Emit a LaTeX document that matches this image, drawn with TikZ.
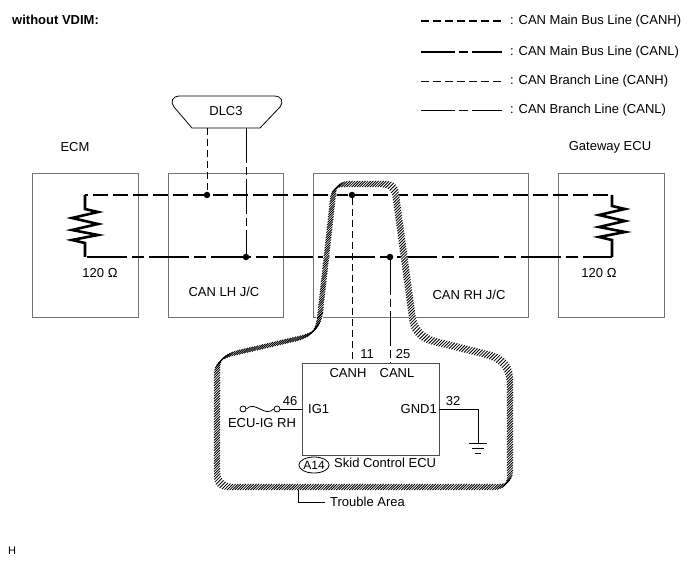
\documentclass[tikz,border=0pt]{standalone}
\usepackage{fontspec}
\setmainfont{Liberation Sans}
\usetikzlibrary{decorations.markings,shapes.geometric}
\tikzset{
  box/.style={draw=black!55, line width=0.8pt, rectangle, inner sep=0pt},
  bus/.style={line width=2.6pt},
  mainH/.style={bus, dash pattern=on 15pt off 5pt},
  mainL/.style={bus, dash pattern=on 40pt off 5pt on 12pt off 5pt},
  brH/.style={line width=0.8pt, dash pattern=on 7pt off 4pt},
  brL/.style={line width=0.8pt, dash pattern=on 35pt off 4pt on 8pt off 4pt},
  wire/.style={line width=0.8pt},
  dot/.style={circle, fill, inner sep=0pt, minimum size=6.5pt},
  lbl/.style={inner sep=0pt},
  pin/.style={circle, draw, line width=0.8pt, inner sep=0pt, minimum size=6pt},
  hatchband/.style={
    preaction={draw=white, line width=6.5pt},
    decoration={markings, mark=between positions 0 and 1 step 2.6pt with {
      \pgftransformresetnontranslations
      \draw[line width=0.85pt] (-3pt,-3pt) -- (3pt,3pt);}},
    postaction={decorate}}
}
\begin{document}
\begin{tikzpicture}[x=1pt,y=-1pt, font=\fontsize{13}{15}\selectfont]
\useasboundingbox (0,0) rectangle (691,564);

% title and corner mark
\node[lbl, anchor=west, font=\fontsize{13}{15}\selectfont\bfseries] (title) at (12,20) {without VDIM:};
\node[lbl, anchor=west, font=\fontsize{11}{13}\selectfont] (hmark) at (8,551) {H};

% legend
\coordinate (lg1a) at (421,21);  \coordinate (lg1b) at (502,21);
\coordinate (lg2a) at (421,52);  \coordinate (lg2b) at (502,52);
\coordinate (lg3a) at (421,81);  \coordinate (lg3b) at (502,81);
\coordinate (lg4a) at (421,110); \coordinate (lg4b) at (502,110);
\draw[bus, dash pattern=on 8pt off 4pt] (lg1a) -- (lg1b);
\draw[bus, dash pattern=on 34pt off 4pt on 9pt off 4pt] (lg2a) -- (lg2b);
\draw[line width=0.8pt, dash pattern=on 8pt off 4pt] (lg3a) -- (lg3b);
\draw[line width=0.8pt, dash pattern=on 34pt off 4pt on 9pt off 4pt] (lg4a) -- (lg4b);
\node[lbl, anchor=west] (t1) at (510,21) {: CAN Main Bus Line (CANH)};
\node[lbl, anchor=west] (t2) at (510,52) {: CAN Main Bus Line (CANL)};
\node[lbl, anchor=west] (t3) at (510,81) {: CAN Branch Line (CANH)};
\node[lbl, anchor=west] (t4) at (510,110) {: CAN Branch Line (CANL)};

% boxes
\node[box, minimum width=106pt, minimum height=144pt] (ecm) at (85,245) {};
\node[box, minimum width=115pt, minimum height=144pt] (lh) at (225.5,245) {};
\node[box, minimum width=215pt, minimum height=144pt] (rh) at (420.5,245) {};
\node[box, minimum width=106pt, minimum height=144pt] (gw) at (611,245) {};
\node[lbl] (ecmlbl) at (75,147) {ECM};
\node[lbl] (gwlbl) at (610,147) {Gateway ECU};
\node[lbl] (lhlbl) at (224,292) {CAN LH J/C};
\node[lbl] (rhlbl) at (469,295) {CAN RH J/C};
\node[lbl] (r1lbl) at (100,273) {120 Ω};
\node[lbl] (r2lbl) at (599,273) {120 Ω};

% DLC3
\draw[wire] (192,128) -- (174,107) .. controls (170,102) and (172,96) .. (180,96)
  -- (274,96) .. controls (282,96) and (284,102) .. (280,107) -- (260,128) -- cycle;
\node[lbl] (dlc) at (226,111) {DLC3};
\coordinate (dlcH) at (207,128);
\coordinate (dlcL) at (246,128);

% bus lines
\coordinate (hL) at (85,195); \coordinate (lL) at (85,257);
\coordinate (hR) at (612,195); \coordinate (lR) at (612,257);
\draw[mainH, dash phase=-8pt] (hL) -- (hR);
\draw[mainL, dash phase=-2pt] (lL) -- (lR);
% resistors
\draw[bus, line join=miter] (hL) -- (85,209) -- (98,212) -- (72,218) -- (98,224) -- (72,230)
  -- (98,235) -- (72,240) -- (85,243) -- (lL);
\draw[bus, line join=miter] (hR) -- (612,206) -- (625,209) -- (599,215) -- (625,221) -- (599,227)
  -- (625,232) -- (599,237) -- (612,240) -- (lR);

% junction dots
\node[dot] (d1) at (207,195) {};
\node[dot] (d2) at (246,257) {};
\node[dot] (d3) at (352,195) {};
\node[dot] (d4) at (390,257) {};

% Skid Control ECU
\node[box, draw=black!70, minimum width=137pt, minimum height=92pt] (ecu) at (370.5,409) {};
\coordinate (p11) at (352,363);
\coordinate (p25) at (390,363);

% branch lines
\draw[brH] (dlcH) -- (d1);
\draw[brL] (dlcL) -- (d2);
\draw[brH] (d3) -- (p11);
\draw[brL] (d4) -- (p25);

\node[lbl] (n11) at (367,354) {11};
\node[lbl] (n25) at (403,354) {25};
\node[lbl] (canh) at (348,373) {CANH};
\node[lbl] (canl) at (397,373) {CANL};
\node[lbl, anchor=west] (ig1) at (308,409) {IG1};
\node[lbl, anchor=east] (gnd1) at (437,409) {GND1};
\node[lbl] (n46) at (290,401) {46};
\node[lbl] (n32) at (453,401) {32};

% fuse ECU-IG RH
\node[pin] (f1) at (243,409) {};
\node[pin] (f2) at (277,409) {};
\draw[wire] (f1.east) .. controls (255,400) and (265,418) .. (f2.west);
\draw[wire] (f2.east) -- (ecu.west |- f2);
\node[lbl] (fuselbl) at (262,423) {ECU-IG RH};

% ground
\coordinate (g0) at (478,409);
\coordinate (g1) at (478,443);
\draw[wire] (ecu.east |- g0) -- (g0) -- (g1);
\draw[wire] (469,443) -- (487,443);
\draw[wire] (472,448) -- (484,448);
\draw[wire] (475,453) -- (481,453);

% connector label
\node[ellipse, draw, line width=0.8pt, inner sep=0pt, minimum width=27pt, minimum height=16pt,
  font=\fontsize{12}{14}\selectfont] (a14) at (314,465) {A14};
\node[lbl, anchor=west] (skid) at (334,463) {Skid Control ECU};

% trouble area
\path[hatchband] (320,315) -- (333,197) .. controls (334,187) and (338,184) .. (348,184)
  -- (382,184) .. controls (392,184) and (395,188) .. (396,197)
  -- (412,315) .. controls (414,335) and (425,340) .. (445,344)
  -- (485,354) .. controls (505,359) and (510,368) .. (510,385)
  -- (510,472) .. controls (510,483) and (505,487) .. (495,487)
  -- (232,487) .. controls (222,487) and (217,483) .. (217,472)
  -- (217,372) .. controls (217,360) and (225,355) .. (240,352)
  -- (300,338) .. controls (314,334) and (318,328) .. (320,315) -- cycle;
\node[lbl, anchor=west] (ta) at (330,502) {Trouble Area};
\coordinate (t0) at (298,490);
\draw[wire] (t0) |- ([xshift=-5pt]ta.west);
\end{tikzpicture}
\end{document}
